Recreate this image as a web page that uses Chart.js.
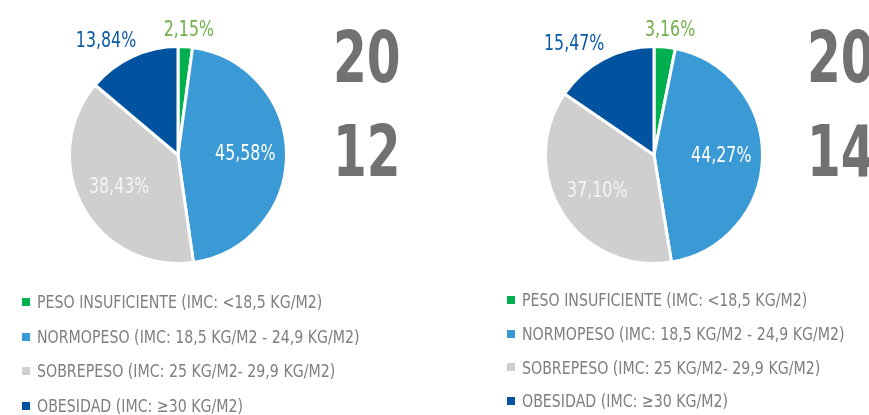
<!DOCTYPE html>
<html>
<head>
<meta charset="utf-8">
<script src="https://cdn.jsdelivr.net/npm/chart.js@4.4.0/dist/chart.umd.min.js"></script>
<style>
  body{margin:0;width:869px;height:415px;overflow:hidden;background:#fff;position:relative;
    font-family:"Liberation Sans Narrow","DejaVu Sans Condensed",sans-serif;}
  .pie{position:absolute;top:5px;}
  .year{position:absolute;font-weight:bold;font-size:72px;line-height:72px;color:#717171;white-space:nowrap;
    transform:scaleX(0.75);transform-origin:0 0;}
  .legend{position:absolute;color:#7f7f7f;font-size:18px;white-space:nowrap;}
  .legend .row{display:flex;align-items:center;}
  .legend .mk{display:inline-block;width:8px;height:8px;margin-right:7px;flex:none;}
  .legend .tx{display:inline-block;transform:scaleX(0.875);transform-origin:0 50%;}
</style>
</head>
<body>
<canvas id="pie2012" class="pie" width="300" height="300" style="left:28px"></canvas>
<canvas id="pie2014" class="pie" width="300" height="300" style="left:504px"></canvas>

<div class="year" style="left:333px;top:21px">20</div>
<div class="year" style="left:333px;top:115px">12</div>
<div class="year" style="left:807px;top:21px">20</div>
<div class="year" style="left:807px;top:115px">14</div>

<div id="legendL" class="legend" style="left:22px;top:285px;line-height:34.5px"></div>
<div id="legendR" class="legend" style="left:507px;top:283px;line-height:33.8px"></div>

<script>
// --- DATA ---
const categories = [
  'PESO INSUFICIENTE (IMC: <18,5 KG/M2)',
  'NORMOPESO (IMC: 18,5 KG/M2 - 24,9 KG/M2)',
  'SOBREPESO (IMC: 25 KG/M2- 29,9 KG/M2)',
  'OBESIDAD (IMC: \u226530 KG/M2)'
];
const values2012 = [2.15, 45.58, 38.43, 13.84];
const values2014 = [3.16, 44.27, 37.10, 15.47];

const sliceColors = ['#00b04f', '#3a9ad6', '#d0cfd0', '#01539f'];
const labelColors = ['#6fae48', '#ffffff', '#f4f4f4', '#0b5aa5'];
const FONT = '"Liberation Sans Narrow","DejaVu Sans Condensed",sans-serif';
const SQUEEZE = 0.8; // condensed look for the % labels

// --- PERCENT LABELS ---
const pctLabels = {
  id:'pctLabels',
  afterDatasetsDraw(chart){
    const {ctx} = chart;
    const meta = chart.getDatasetMeta(0);
    const data = chart.data.datasets[0].data;
    ctx.save();
    ctx.font = '22px ' + FONT;
    ctx.textAlign = 'center';
    ctx.textBaseline = 'middle';
    meta.data.forEach((arc, i)=>{
      const {x, y, startAngle, endAngle, outerRadius} =
        arc.getProps(['x','y','startAngle','endAngle','outerRadius'], true);
      const mid = (startAngle + endAngle) / 2;
      const dx = Math.cos(mid), dy = Math.sin(mid);
      const txt = data[i].toFixed(2).replace('.', ',') + '%';
      let px, py;
      if(data[i] > 20){
        px = x + dx * outerRadius * 0.62;
        py = y + dy * outerRadius * 0.62;
      } else {
        const w = ctx.measureText(txt).width * SQUEEZE;
        px = x + dx * (outerRadius + 8) + dx * w * 0.9;
        py = y + dy * (outerRadius + 8) + dy * 9;
      }
      ctx.save();
      ctx.translate(px, py);
      ctx.scale(SQUEEZE, 1);
      ctx.fillStyle = labelColors[i];
      ctx.fillText(txt, 0, 0);
      ctx.restore();
    });
    ctx.restore();
  }
};

function makePie(id, values){
  return new Chart(document.getElementById(id), {
    type:'pie',
    data:{
      labels:categories,
      datasets:[{data:values, backgroundColor:sliceColors, borderColor:'#ffffff', borderWidth:3}]
    },
    options:{
      responsive:false,
      animation:false,
      layout:{padding:40},
      plugins:{legend:{display:false}, tooltip:{enabled:false}}
    },
    plugins:[pctLabels]
  });
}

// --- LEGENDS ---
function renderLegend(el){
  el.innerHTML = '';
  categories.forEach((c, i)=>{
    const row = document.createElement('div'); row.className = 'row';
    const mk = document.createElement('span'); mk.className = 'mk'; mk.style.background = sliceColors[i];
    const t = document.createElement('span'); t.className = 'tx'; t.textContent = c;
    row.appendChild(mk); row.appendChild(t);
    el.appendChild(row);
  });
}

renderLegend(document.getElementById('legendL'));
renderLegend(document.getElementById('legendR'));
makePie('pie2012', values2012);
makePie('pie2014', values2014);
</script>
</body>
</html>
